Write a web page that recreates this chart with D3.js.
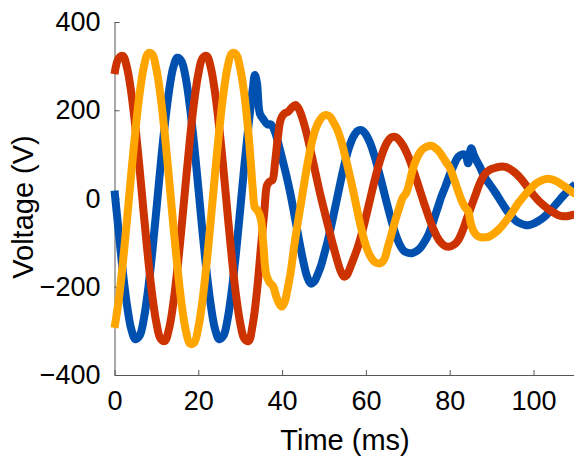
<!DOCTYPE html>
<html>
<head>
<meta charset="utf-8">
<script src="https://cdn.jsdelivr.net/npm/d3@7/dist/d3.min.js"></script>
<style>
  html, body { margin: 0; padding: 0; background: #fff; }
  svg { display: block; }
  text { font-family: "Liberation Sans", Arial, Helvetica, sans-serif; fill: #000; }
</style>
</head>
<body>
<svg id="chart" width="574" height="461"></svg>
<script>
// ---- Data (time in ms, voltage in V) ----
const xTicks = [0, 20, 40, 60, 80, 100];
const yTicks = [-400, -200, 0, 200, 400];
const xLabel = "Time (ms)";
const yLabel = "Voltage (V)";
const seriesNames = ["Phase A", "Phase B", "Phase C"];

const phaseA = [ // blue
  [0,18],[1,-75],[2,-167],[3,-243],[4,-296],[5,-319],[6,-311],[7,-273],[8,-208],[9,-123],
  [10,-25],[11,75],[12,167],[13,243],[14,296],[15,319],[16,311],[17,273],[18,208],[19,123],
  [20,25],[21,-75],[22,-167],[23,-243],[24,-296],[25,-319],[26,-311],[27,-273],[28,-208],[29,-123],
  [30,-25],[31,75],[32,167],[33,248],[33.5,280],[34,262],[34.7,192],[35.5,180],[36.5,168],[37.3,168],
  [38.3,151],[39.5,110],[40.3,80],[41.1,49],[42,10],[43,-40],[44,-92],[45,-140],[46,-178],[46.9,-193],
  [47.7,-188],[48.5,-172],[49.3,-152],[50,-128],[51,-92],[52,-50],[53,-5],[54,40],[55,82],[56,116],
  [57,140],[58,153],[58.7,155],[59.4,152],[60,145],[61,126],[62,98],[63,64],[64,27],[65,-11],
  [66,-47],[67,-79],[68,-103],[69,-118],[70,-123],[71,-124],[72,-120],[73,-112],[74,-98],[75,-80],
  [76,-54],[77,-25],[78,4],[79,28],[80,54],[81,76],[82,94],[83,100],[83.8,98],[84.4,80],
  [85.1,114],[85.8,98],[86.5,84],[87.3,70],[88,55],[89,39],[90,26],[91,12],[92,-3],[93,-18],
  [94,-32],[95,-43],[96,-52],[97,-57],[98,-60],[99,-60],[100,-57],[101,-52],[102,-46],[103,-38],
  [104,-28],[105,-17],[106,-6],[107,5],[108,15],[109,24],[110,32]
];

const phaseB = [ // red
  [0,282],[1,318],[2,323],[3,296],[4,240],[5,161],[6,66],[7,-36],[8,-134],[9,-219],
  [10,-282],[11,-318],[12,-323],[13,-296],[14,-240],[15,-161],[16,-66],[17,36],[18,134],[19,219],
  [20,282],[21,318],[22,323],[23,296],[24,240],[25,161],[26,66],[27,-36],[28,-134],[29,-219],
  [30,-282],[31,-318],[32,-323],[33,-285],[34,-210],[35,-105],[35.8,-25],[36.4,30],[37,38],[37.7,42],
  [38.3,80],[39,140],[39.7,180],[40.5,192],[41.5,197],[42.4,207],[43.2,212],[44,203],[45,177],[46,142],
  [47,100],[48,57],[49,14],[50,-25],[51,-63],[52,-100],[53,-135],[54,-165],[54.8,-177],[55.5,-173],
  [56.3,-155],[57,-138],[58,-112],[59,-80],[60,-42],[61,-2],[62,38],[63,74],[64,104],[65,126],
  [66,138],[66.6,140],[67.3,138],[68,132],[69,118],[70,98],[71,73],[72,45],[73,15],[74,-14],
  [75,-42],[76,-67],[77,-87],[78,-101],[79,-108],[80,-109],[81,-105],[82,-95],[83,-75],[84,-48],
  [85,-22],[86,4],[87,30],[88,50],[89,61],[90,67],[91,70],[92,72],[93,72],[94,69],
  [95,63],[96,55],[97,45],[98,33],[99,20],[100,8],[101,-3],[102,-12],[103,-20],[104,-27],
  [105,-33],[106,-38],[107,-40],[108,-40],[109,-38],[110,-36]
];

const phaseC = [ // yellow
  [0,-293],[1,-231],[2,-146],[3,-47],[4,57],[5,155],[6,238],[7,298],[8,329],[9,327],
  [10,293],[11,231],[12,146],[13,47],[14,-57],[15,-155],[16,-238],[17,-298],[18,-329],[19,-327],
  [20,-293],[21,-231],[22,-146],[23,-47],[24,57],[25,155],[26,238],[27,298],[28,329],[29,327],
  [30,295],[31,235],[32,145],[32.5,85],[33,22],[33.5,-20],[34.2,-28],[34.9,-45],[35.5,-100],[36.2,-172],
  [37,-190],[37.8,-198],[38.6,-222],[39.4,-240],[40,-245],[40.7,-232],[41.3,-205],[42,-170],[43,-100],[44,-40],
  [45,18],[46,75],[47,123],[48,158],[49,178],[50,188],[50.7,189],[51.5,185],[52.3,172],[53,160],
  [54,134],[55,98],[56,58],[57,16],[58,-30],[59,-72],[60,-107],[61,-130],[62,-143],[63,-147],
  [63.8,-145],[64.5,-135],[65.3,-108],[66,-85],[67,-50],[68,-20],[68.8,2],[69.6,12],[70.3,32],[71,60],
  [72,88],[73,106],[74,115],[75,119],[75.7,119],[76.5,115],[77.5,106],[78.5,92],[79.3,80],[80,70],
  [81,45],[82,17],[83,-8],[83.8,-22],[84.4,-28],[85,-55],[85.7,-74],[86.5,-84],[87.5,-88],[88.5,-88],
  [89.5,-86],[90.5,-80],[91.5,-72],[92.5,-62],[93.5,-50],[94.5,-37],[95.5,-23],[96.5,-9],[97.5,3],[98.5,14],
  [99.5,24],[100.5,33],[101.5,39],[102.5,43],[103.5,45],[104.5,43],[105.5,39],[106.5,33],[107.5,27],[108.5,20],
  [109.5,13],[110,10]
];

const seriesData = [phaseA, phaseB, phaseC];
const seriesColors = ["#0050B0", "#CC3300", "#FFA500"];

// ---- Layout ----
const svg = d3.select("#chart");
const x = d3.scaleLinear().domain([0, 110]).range([114.5, 575.4]);
const y = d3.scaleLinear().domain([-400, 400]).range([375, 22]);

svg.append("rect").attr("width", 574).attr("height", 461).attr("fill", "#fff");

// Axes
const axisColor = "#555";
const gx = svg.append("g")
  .attr("transform", `translate(0,${y(-400)})`)
  .call(d3.axisBottom(x).tickValues(xTicks).tickSizeInner(-5).tickSizeOuter(0).tickPadding(16));
const gy = svg.append("g")
  .attr("transform", `translate(${x(0)},0)`)
  .call(d3.axisLeft(y).tickValues(yTicks).tickSizeInner(-5).tickSizeOuter(0).tickPadding(14));

[gx, gy].forEach(g => {
  g.select(".domain").attr("stroke", axisColor).attr("stroke-width", 1);
  g.selectAll(".tick line").attr("stroke", axisColor).attr("stroke-width", 1);
  g.selectAll(".tick text")
    .attr("font-size", 27)
    .attr("fill", "#000")
    .style("font-family", '"Liberation Sans", Arial, Helvetica, sans-serif');
});

// Lines
const line = d3.line()
  .x(d => x(d[0]))
  .y(d => y(d[1]))
  .curve(d3.curveCatmullRom.alpha(0.5));

svg.append("g")
  .selectAll("path")
  .data(seriesData)
  .join("path")
  .attr("d", line)
  .attr("fill", "none")
  .attr("stroke", (d, i) => seriesColors[i])
  .attr("stroke-width", 8)
  .attr("stroke-linejoin", "round")
  .attr("stroke-linecap", "butt")
  .attr("data-name", (d, i) => seriesNames[i]);

// Axis labels
svg.append("text")
  .attr("x", 345)
  .attr("y", 450)
  .attr("text-anchor", "middle")
  .attr("font-size", 29)
  .text(xLabel);

svg.append("text")
  .attr("transform", `translate(33,207) rotate(-90)`)
  .attr("text-anchor", "middle")
  .attr("font-size", 29)
  .text(yLabel);
</script>
</body>
</html>
